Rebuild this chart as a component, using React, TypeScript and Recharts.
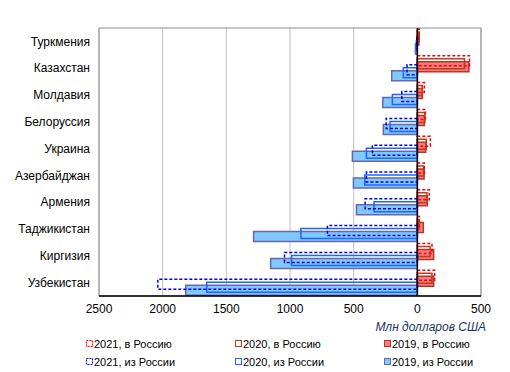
import { Bar, BarChart, CartesianGrid, Legend, ReferenceArea, ReferenceLine, Rectangle, XAxis, YAxis } from "recharts";

const categories = ["Туркмения", "Казахстан", "Молдавия", "Белоруссия", "Украина", "Азербайджан", "Армения", "Таджикистан", "Киргизия", "Узбекистан"];

// в Россию (млн долл.)
const toRussia2019 = [12, 405, 40, 55, 66, 53, 78, 47, 128, 128];
const toRussia2020 = [14, 370, 39, 59, 71, 50, 76, 13, 100, 115];
const toRussia2021 = [15, 410, 55, 63, 102, 55, 94, 16, 115, 136];

// из России (млн долл.)
const fromRussia2019 = [15, 201, 271, 267, 510, 502, 478, 1286, 1152, 1819];
const fromRussia2020 = [8, 110, 196, 214, 400, 413, 340, 914, 988, 1654];
const fromRussia2021 = [5, 81, 122, 245, 353, 400, 410, 706, 1043, 2038];

const xTicks = [-2500, -2000, -1500, -1000, -500, 0, 500];

const data = categories.map((name, i) => ({
  name,
  in2019: toRussia2019[i],
  in2020: toRussia2020[i],
  in2021: toRussia2021[i],
  out2019: -fromRussia2019[i],
  out2020: -fromRussia2020[i],
  out2021: -fromRussia2021[i],
}));

type Series = { key: string; name: string; fill: string; stroke: string; dash?: string; width: number; shift: number };

// declared 2019 -> 2021 so 2021 paints on top; shift puts 2021 at the top of the group
const SERIES: Series[] = [
  { key: "in2019", name: "2019, в Россию", fill: "#ff7b7b", stroke: "#b8352a", width: 1.5, shift: 6 },
  { key: "in2020", name: "2020, в Россию", fill: "none", stroke: "#b5401f", width: 1.5, shift: 0 },
  { key: "in2021", name: "2021, в Россию", fill: "none", stroke: "#ff0000", dash: "3 2", width: 1.5, shift: -6 },
  { key: "out2019", name: "2019, из России", fill: "#80c8ff", stroke: "#6868a8", width: 1.5, shift: 6 },
  { key: "out2020", name: "2020, из России", fill: "none", stroke: "#1a66ff", width: 1.5, shift: 0 },
  { key: "out2021", name: "2021, из России", fill: "none", stroke: "#0000e6", dash: "3 2", width: 1.5, shift: -6 },
];

const LEGEND_ORDER = ["in2021", "in2020", "in2019", "out2021", "out2020", "out2019"];

const shiftedShape = (s: Series) => (p: any) => (
  <Rectangle
    x={p.x}
    y={p.y + s.shift}
    width={p.width}
    height={p.height}
    fill={s.fill}
    stroke={s.stroke}
    strokeWidth={s.width}
    strokeDasharray={s.dash}
  />
);

const LegendBox = () => (
  <div style={{ display: "grid", gridTemplateColumns: "149px 149px 149px", rowGap: 5, fontSize: 11, color: "#000" }}>
    {LEGEND_ORDER.map((k) => {
      const s = SERIES.find((x) => x.key === k)!;
      return (
        <div key={k} style={{ display: "flex", alignItems: "center", height: 13, whiteSpace: "pre" }}>
          <svg width={7} height={7} style={{ marginRight: 1 }}>
            <rect x={0.5} y={0.5} width={6} height={6} fill={s.fill === "none" ? "#fff" : s.fill} stroke={s.stroke} strokeDasharray={s.dash ? "2 1" : undefined} />
          </svg>
          <span>{s.name}</span>
        </div>
      );
    })}
  </div>
);

const AxisTitle = (props: any) => {
  const { x, y, width } = props.viewBox;
  return (
    <text x={x + width + 5} y={y + 35} textAnchor="end" fontSize={12} fontStyle="italic" fill="#1b3563">
      Млн долларов США
    </text>
  );
};

export default function App() {
  return (
    <div style={{ position: "absolute", left: 0, top: 0, background: "#fff" }}>
      <BarChart
        width={510}
        height={372}
        data={data}
        layout="vertical"
        barSize={10}
        barGap={-7}
        margin={{ top: 28, right: 29, bottom: 46, left: 0 }}
        style={{ fontFamily: "'Liberation Sans', Arial, sans-serif" }}
      >
        <CartesianGrid horizontal={false} stroke="#c0c0c0" />
        <ReferenceArea x1={-2500} x2={500} fill="none" stroke="#8c8c8c" strokeWidth={1} />
        <XAxis
          type="number"
          domain={[-2500, 500]}
          ticks={xTicks}
          tickFormatter={(v: number) => String(Math.abs(v))}
          tick={{ fill: "#000", fontSize: 12 }}
          tickLine={false}
          axisLine={{ stroke: "#000", strokeWidth: 1.5 }}
          label={<AxisTitle />}
        />
        <YAxis
          type="category"
          dataKey="name"
          width={99}
          tick={{ fill: "#000", fontSize: 12 }}
          tickLine={false}
          tickMargin={3}
          axisLine={false}
        />
        {SERIES.map((s) => (
          <Bar key={s.key} dataKey={s.key} name={s.name} isAnimationActive={false} shape={shiftedShape(s)} />
        ))}
        <ReferenceLine x={0} stroke="#000" strokeWidth={1.5} />
        <Legend verticalAlign="middle" align="center" layout="horizontal" content={<LegendBox />} wrapperStyle={{ left: 86, top: 337, width: 450, height: 34 }} />
      </BarChart>
    </div>
  );
}
